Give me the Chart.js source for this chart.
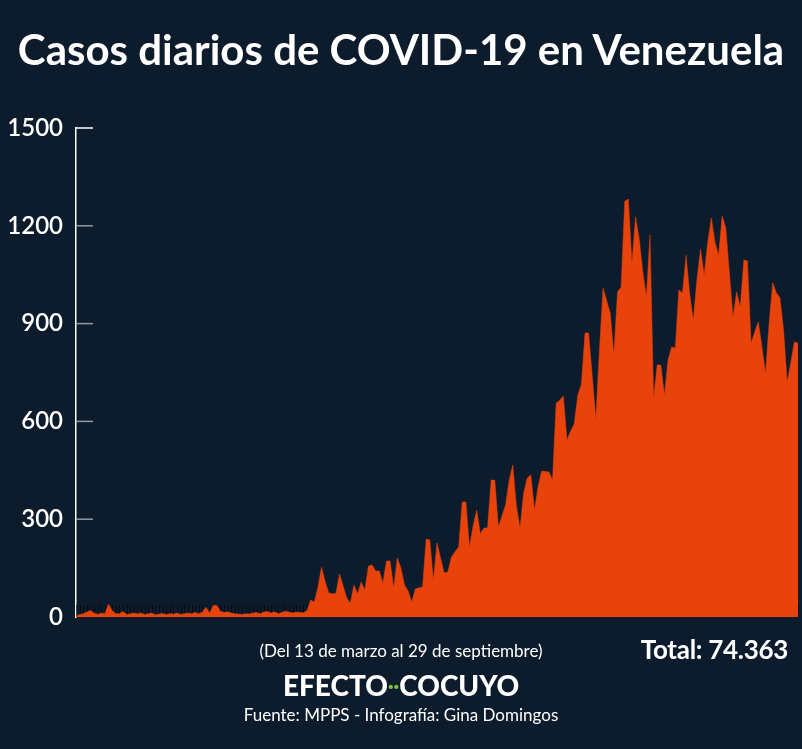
<!DOCTYPE html>
<html>
<head>
<meta charset="utf-8">
<script src="https://cdn.jsdelivr.net/npm/chart.js@4"></script>
<style>
  html, body { margin:0; padding:0; background:#0d1c2c; }
  #wrap { position:relative; width:802px; height:749px; overflow:hidden; background:#0d1c2c; }
  #c { position:absolute; left:0; top:0; }
  .t { position:absolute; color:#fff; font-family:Lato, "Open Sans", sans-serif; white-space:nowrap; line-height:1; }
  #title { left:0; width:802px; text-align:center; top:28px; font-size:42px; font-weight:700; }
  #sub { left:0; width:802px; text-align:center; top:642px; font-size:17px; }
  #total { right:14px; top:636px; font-size:26px; font-weight:700; letter-spacing:-0.3px; }
  #brand { left:0; width:802px; text-align:center; top:671px; font-size:28px; font-weight:900; }
  #brand .dots { color:#7cc242; font-size:20px; position:relative; top:-3px; }
  #src { left:0; width:802px; text-align:center; top:706px; font-size:17px; }
</style>
</head>
<body>
<div id="wrap">
  <canvas id="c" width="802" height="749"></canvas>
  <div class="t" id="title">Casos diarios de COVID-19 en Venezuela</div>
  <div class="t" id="sub">(Del 13 de marzo al 29 de septiembre)</div>
  <div class="t" id="total">Total: 74.363</div>
  <div class="t" id="brand">EFECTO<span class="dots">··</span>COCUYO</div>
  <div class="t" id="src">Fuente: MPPS - Infografía: Gina Domingos</div>
</div>
<script>
// ---- data ----
const startDate = [2020, 2, 13]; // 13 de marzo de 2020
const dayCount = 201;            // 13 mar - 29 sep
const casos = [
  2,8,10,15,20,12,8,12,10,40,
  20,10,10,17,8,10,12,10,12,8,
  10,12,7,9,11,8,10,9,12,8,
  10,12,10,14,10,15,30,12,35,36,
  18,14,16,12,10,9,8,10,9,12,
  14,10,15,17,12,16,10,14,18,15,
  12,15,14,
  13,20,52,46,90,153,110,74,71,73,
  132,95,58,43,98,71,107,83,156,160,
  141,141,104,172,172,89,181,150,98,80,
  46,86,90,92,239,236,113,227,180,135,
  138,184,200,215,353,353,215,280,328,255,
  273,273,420,420,276,310,344,420,466,340,
  273,380,426,436,328,400,448,446,445,420,
  656,665,678,543,570,592,680,715,871,871,
  740,607,820,1009,970,932,804,997,1012,1275,
  1282,1086,1227,1160,1060,982,1172,672,773,773,
  681,788,828,825,1003,994,1110,990,911,1034,
  1129,1049,1150,1224,1150,1110,1230,1193,1055,920,
  997,951,1095,1092,840,874,905,830,748,900,
  1025,995,979,880,721,780,844,840
];
const yTicks = [0, 300, 600, 900, 1200, 1500];

const fechas = [];
for (let i = 0; i < dayCount; i++) {
  const d = new Date(startDate[0], startDate[1], startDate[2] + i);
  fechas.push(d.getDate() + '/' + (d.getMonth() + 1));
}

// ---- plugins ----
const baseTicks = {
  id: 'baseTicks',
  beforeDatasetsDraw(chart) {
    const xs = chart.scales.x, ctx = chart.ctx, b = chart.chartArea.bottom;
    ctx.save();
    ctx.strokeStyle = 'rgba(0,0,0,0.55)';
    ctx.lineWidth = 1;
    for (let i = 0; i < fechas.length; i++) {
      const x = Math.round(xs.getPixelForValue(i)) + 0.5;
      ctx.beginPath(); ctx.moveTo(x, b); ctx.lineTo(x, b - 12); ctx.stroke();
    }
    ctx.restore();
  }
};
const innerTicks = {
  id: 'innerTicks',
  afterDatasetsDraw(chart) {
    const ys = chart.scales.y, ctx = chart.ctx, l = chart.chartArea.left;
    ctx.save();
    ctx.lineWidth = 1.5;
    yTicks.forEach((v, i) => {
      if (v === 0) return;
      const y = ys.getPixelForValue(v);
      ctx.strokeStyle = (i === yTicks.length - 1) ? '#ffffff' : '#8d99a6';
      ctx.beginPath(); ctx.moveTo(l, y); ctx.lineTo(l + 17, y); ctx.stroke();
    });
    ctx.restore();
  }
};

new Chart(document.getElementById('c'), {
  type: 'line',
  data: {
    labels: fechas,
    datasets: [{
      data: casos,
      fill: 'origin',
      backgroundColor: '#e8430b',
      borderColor: '#e8430b',
      borderWidth: 0.5,
      pointRadius: 0,
      tension: 0
    }]
  },
  options: {
    responsive: false,
    animation: false,
    layout: { padding: { left: 0, right: 4, top: 128, bottom: 132 } },
    plugins: { legend: { display: false }, tooltip: { enabled: false } },
    scales: {
      x: { display: false, offset: false },
      y: {
        min: 0, max: 1500,
        afterBuildTicks(scale) { scale.ticks = yTicks.map(v => ({ value: v })); },
        afterFit(scale) { scale.width = 76; },
        grid: { display: false, drawTicks: false },
        border: { display: true, color: '#ffffff', width: 1.5 },
        ticks: {
          color: '#ffffff',
          padding: 13,
          font: { family: 'Lato', size: 24, weight: '600' },
          callback: (v) => String(v)
        }
      }
    }
  },
  plugins: [baseTicks, innerTicks]
});
</script>
</body>
</html>
